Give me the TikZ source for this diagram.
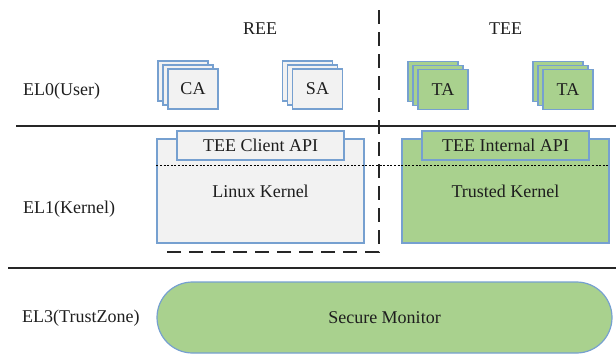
\documentclass[tikz,border=0pt]{standalone}
\usepackage{fontspec}
\setmainfont{Liberation Serif}
\usepackage{tikz}
\usetikzlibrary{shadows,positioning}
\definecolor{softgray}{RGB}{242,242,242}
\definecolor{softgreen}{RGB}{169,209,142}
\definecolor{edgeblue}{RGB}{118,160,208}
\definecolor{inkgray}{RGB}{30,30,30}

\begin{document}
\begin{tikzpicture}[x=1pt,y=-1pt,every node/.style={font=\fontsize{18}{21}\selectfont,text=inkgray,align=center,inner sep=0pt},
  app/.style={draw=edgeblue,fill=#1,line width=1.2pt,minimum width=50pt,minimum height=40pt,
    copy shadow={shadow xshift=-10pt,shadow yshift=8pt,draw=edgeblue,fill=#1,line width=1.2pt},
    copy shadow={shadow xshift=-5pt,shadow yshift=4pt,draw=edgeblue,fill=#1,line width=1.2pt}},
  kernel/.style={draw=edgeblue,fill=#1,line width=1.2pt,minimum width=207pt,minimum height=104pt},
  api/.style={draw=edgeblue,fill=#1,line width=1.2pt,minimum width=167pt,minimum height=29pt},
  level/.style={anchor=west},
  divider/.style={line width=1.6pt,black!85}]
\useasboundingbox (0,0) rectangle (616,356);
% world labels
\node (ree) at (260,29) {REE};
\node (tee) at (505.5,29) {TEE};
% exception levels
\node[level] (el0) at (23,91) {EL0(User)};
\node[level] (el1) at (23,209) {EL1(Kernel)};
\node[level] (el3) at (22,318) {EL3(TrustZone)};
% EL0 applications
\node[app=softgray] (ca) at (193,89) {CA};
\node[app=softgray] (sa) at (317.5,89) {SA};
\node[app=softgreen] (ta1) at (443,89.5) {TA};
\node[app=softgreen] (ta2) at (568,89.5) {TA};
% EL1 kernels
\node[kernel=softgray] (linux) at (260.5,191) {Linux Kernel};
\node[api=softgray] (clientapi) at (260.5,145.5) {TEE Client API};
\node[kernel=softgreen] (trusted) at (505.5,191) {Trusted Kernel};
\node[api=softgreen] (internalapi) at (505.5,145.5) {TEE Internal API};
\coordinate (split) at (0,165);
\draw[line width=1pt,dash pattern=on 2pt off 1.6pt] (linux.west |- split) -- (trusted.east |- split);
% EL3
\node[draw=edgeblue,fill=softgreen,line width=1.2pt,rounded corners=35.5pt,minimum width=455pt,minimum height=71pt] (monitor) at (384.5,317.5) {Secure Monitor};
% dividers
\draw[divider] (16,126) -- (616,126);
\draw[divider] (8,268) -- (616,268);
\draw[divider,dash pattern=on 14pt off 8pt] (379,10) -- (379,252) -- (162,252);
\end{tikzpicture}
\end{document}
